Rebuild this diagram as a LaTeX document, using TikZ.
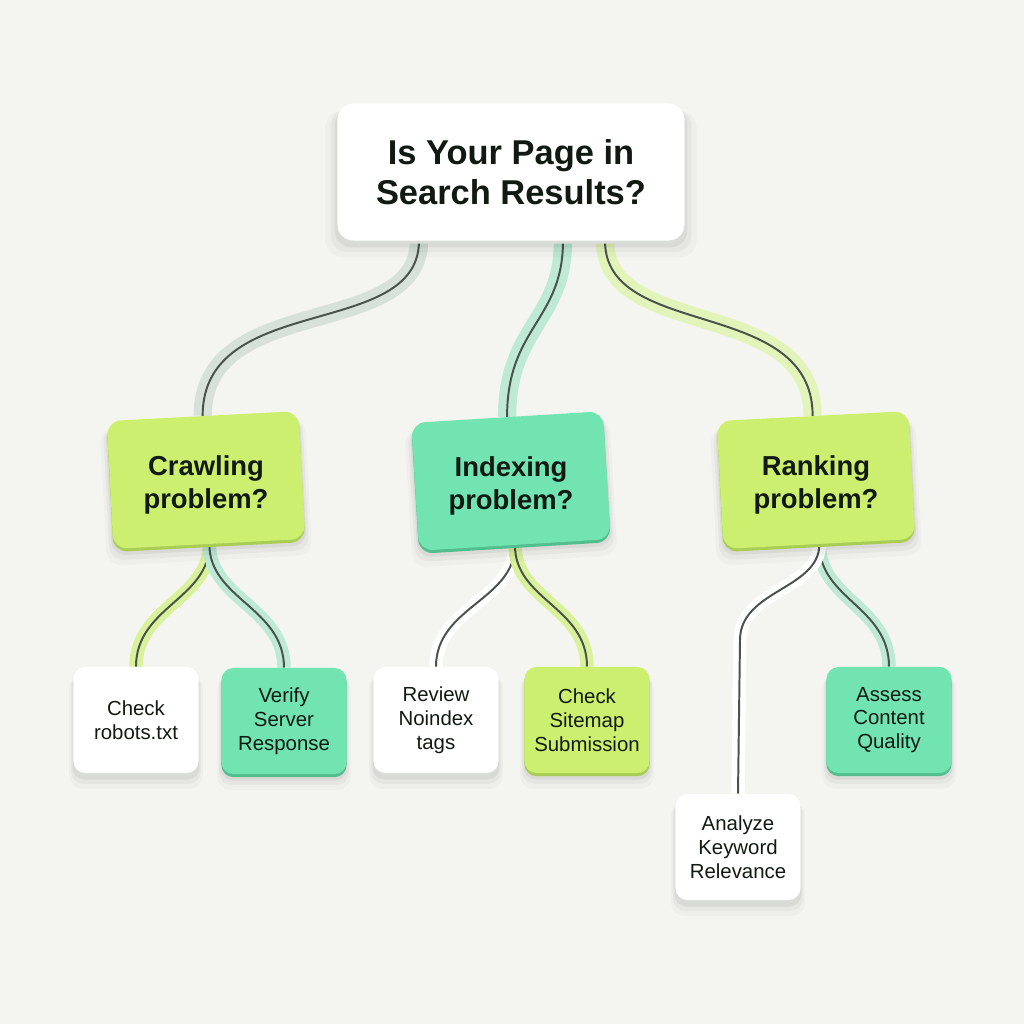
\documentclass[tikz,border=0pt]{standalone}
\usepackage{fontspec}
\setmainfont{Liberation Sans}
\usetikzlibrary{calc,shadows}
\definecolor{bgc}{HTML}{F4F5F0}
\definecolor{txt}{HTML}{111A12}
\definecolor{lime}{HTML}{CDEF70}
\definecolor{limedk}{HTML}{A9CC55}
\definecolor{mint}{HTML}{72E4B2}
\definecolor{mintdk}{HTML}{52BE8E}
\definecolor{whdk}{HTML}{DADDD7}
\definecolor{linec}{HTML}{4A524C}
\definecolor{bgray}{HTML}{D8E0DA}
\definecolor{bmint}{HTML}{BDE9D5}
\definecolor{blime}{HTML}{E2F4BA}
\definecolor{blime2}{HTML}{D9F19A}
\definecolor{bwhite}{HTML}{FFFFFF}
\pgfdeclarelayer{back}
\pgfdeclarelayer{links}
\pgfsetlayers{back,links,main}
\tikzset{
  softshadow/.style={
    general shadow={shadow xshift=0pt, shadow yshift=-8pt, shadow scale=1.07, fill=black, opacity=0.025},
    general shadow={shadow xshift=0pt, shadow yshift=-6pt, shadow scale=1.04, fill=black, opacity=0.035},
    general shadow={shadow xshift=0pt, shadow yshift=-4pt, shadow scale=1.015, fill=black, opacity=0.05}},
  edge3d/.style={general shadow={shadow xshift=0pt, shadow yshift=-2.2pt, fill=#1}},
  boxbase/.style={draw=none, align=center, text=txt, inner sep=0pt, softshadow},
  rootbox/.style={boxbase, fill=white, edge3d=whdk, minimum width=8.675cm, minimum height=3.425cm,
    rounded corners=0.4cm, font=\fontsize{24.5}{28.5}\selectfont\bfseries},
  midbox/.style={boxbase, fill=#1, minimum width=4.8cm, minimum height=3.2cm,
    rounded corners=0.35cm},
  midtext/.style={align=center, text=txt, inner sep=0pt, font=\fontsize{19.5}{23.5}\selectfont\bfseries},
  leafbox/.style={boxbase, fill=#1, minimum width=3.125cm, minimum height=2.65cm,
    rounded corners=0.3cm, font=\fontsize{14.5}{17}\selectfont},
  band/.style={draw=#1, line width=13pt, line cap=butt},
  sband/.style={draw=#1, line width=9.5pt, line cap=butt},
  core/.style={draw=linec, line width=1.4pt, line cap=butt},
}
\begin{document}
\begin{tikzpicture}[x=0.025cm,y=-0.025cm]
\begin{pgfonlayer}{back}
\fill[bgc] (0,0) rectangle (1024,1024);
\end{pgfonlayer}
\useasboundingbox (0,0) rectangle (1024,1024);

% nodes
\node[rootbox] (root) at (511,172) {Is Your Page in\\Search Results?};
\node[midbox=lime, edge3d=limedk, rotate=3] (crawl) at (206,480) {};
\node[midtext] (crawlT) at ($(crawl.center)+(0,5)$) {Crawling\\problem?};
\node[midbox=mint, edge3d=mintdk, rotate=3.5] (index) at (511,481) {};
\node[midtext] (indexT) at ($(index.center)+(0,5)$) {Indexing\\problem?};
\node[midbox=lime, edge3d=limedk, rotate=3] (rank) at (816,480) {};
\node[midtext] (rankT) at ($(rank.center)+(0,5)$) {Ranking\\problem?};

\node[leafbox=white, edge3d=whdk] (robots) at (136,720) {Check\\robots.txt};
\node[leafbox=mint, edge3d=mintdk] (verify) at (284,721) {Verify\\Server\\Response};
\node[leafbox=white, edge3d=whdk] (review) at (436,720) {Review\\Noindex\\tags};
\node[leafbox=lime, edge3d=limedk] (sitemap) at (587,720) {Check\\Sitemap\\Submission};
\node[leafbox=mint, edge3d=mintdk] (assess) at (889,720) {Assess\\Content\\Quality};
\node[leafbox=white, edge3d=whdk] (analyze) at (738,847) {Analyze\\Keyword\\Relevance};

% anchor points
\coordinate (r1) at ($(root.south)+(-92,0)$);
\coordinate (r2) at ($(root.south)+(52,0)$);
\coordinate (r3) at ($(root.south)+(94,0)$);
\coordinate (kink) at (740,640);

\begin{pgfonlayer}{links}
% root -> mid
\foreach \b/\s/\e/\ca/\cb in {bgray/r1/crawl/100/125, bmint/r2/index/80/90, blime/r3/rank/100/120}{
  \path[band=\b] (\s) .. controls +(0,\ca) and +(0,-\cb) .. (\e.north);
  \path[core] (\s) .. controls +(0,\ca) and +(0,-\cb) .. (\e.north);
}
% mid -> leaves
\foreach \b/\s/\e in {blime2/crawl/robots, bmint/crawl/verify, bwhite/index/review, blime2/index/sitemap, bmint/rank/assess}{
  \path[sband=\b] (\s.south) .. controls +(0,55) and +(0,-60) .. (\e.north);
  \path[core] (\s.south) .. controls +(0,55) and +(0,-60) .. (\e.north);
}
\path[sband=bwhite] (rank.south) .. controls +(0,45) and +(0,-50) .. (kink) -- (analyze.north);
\path[core] (rank.south) .. controls +(0,45) and +(0,-50) .. (kink) -- (analyze.north);
\end{pgfonlayer}
\end{tikzpicture}
\end{document}
